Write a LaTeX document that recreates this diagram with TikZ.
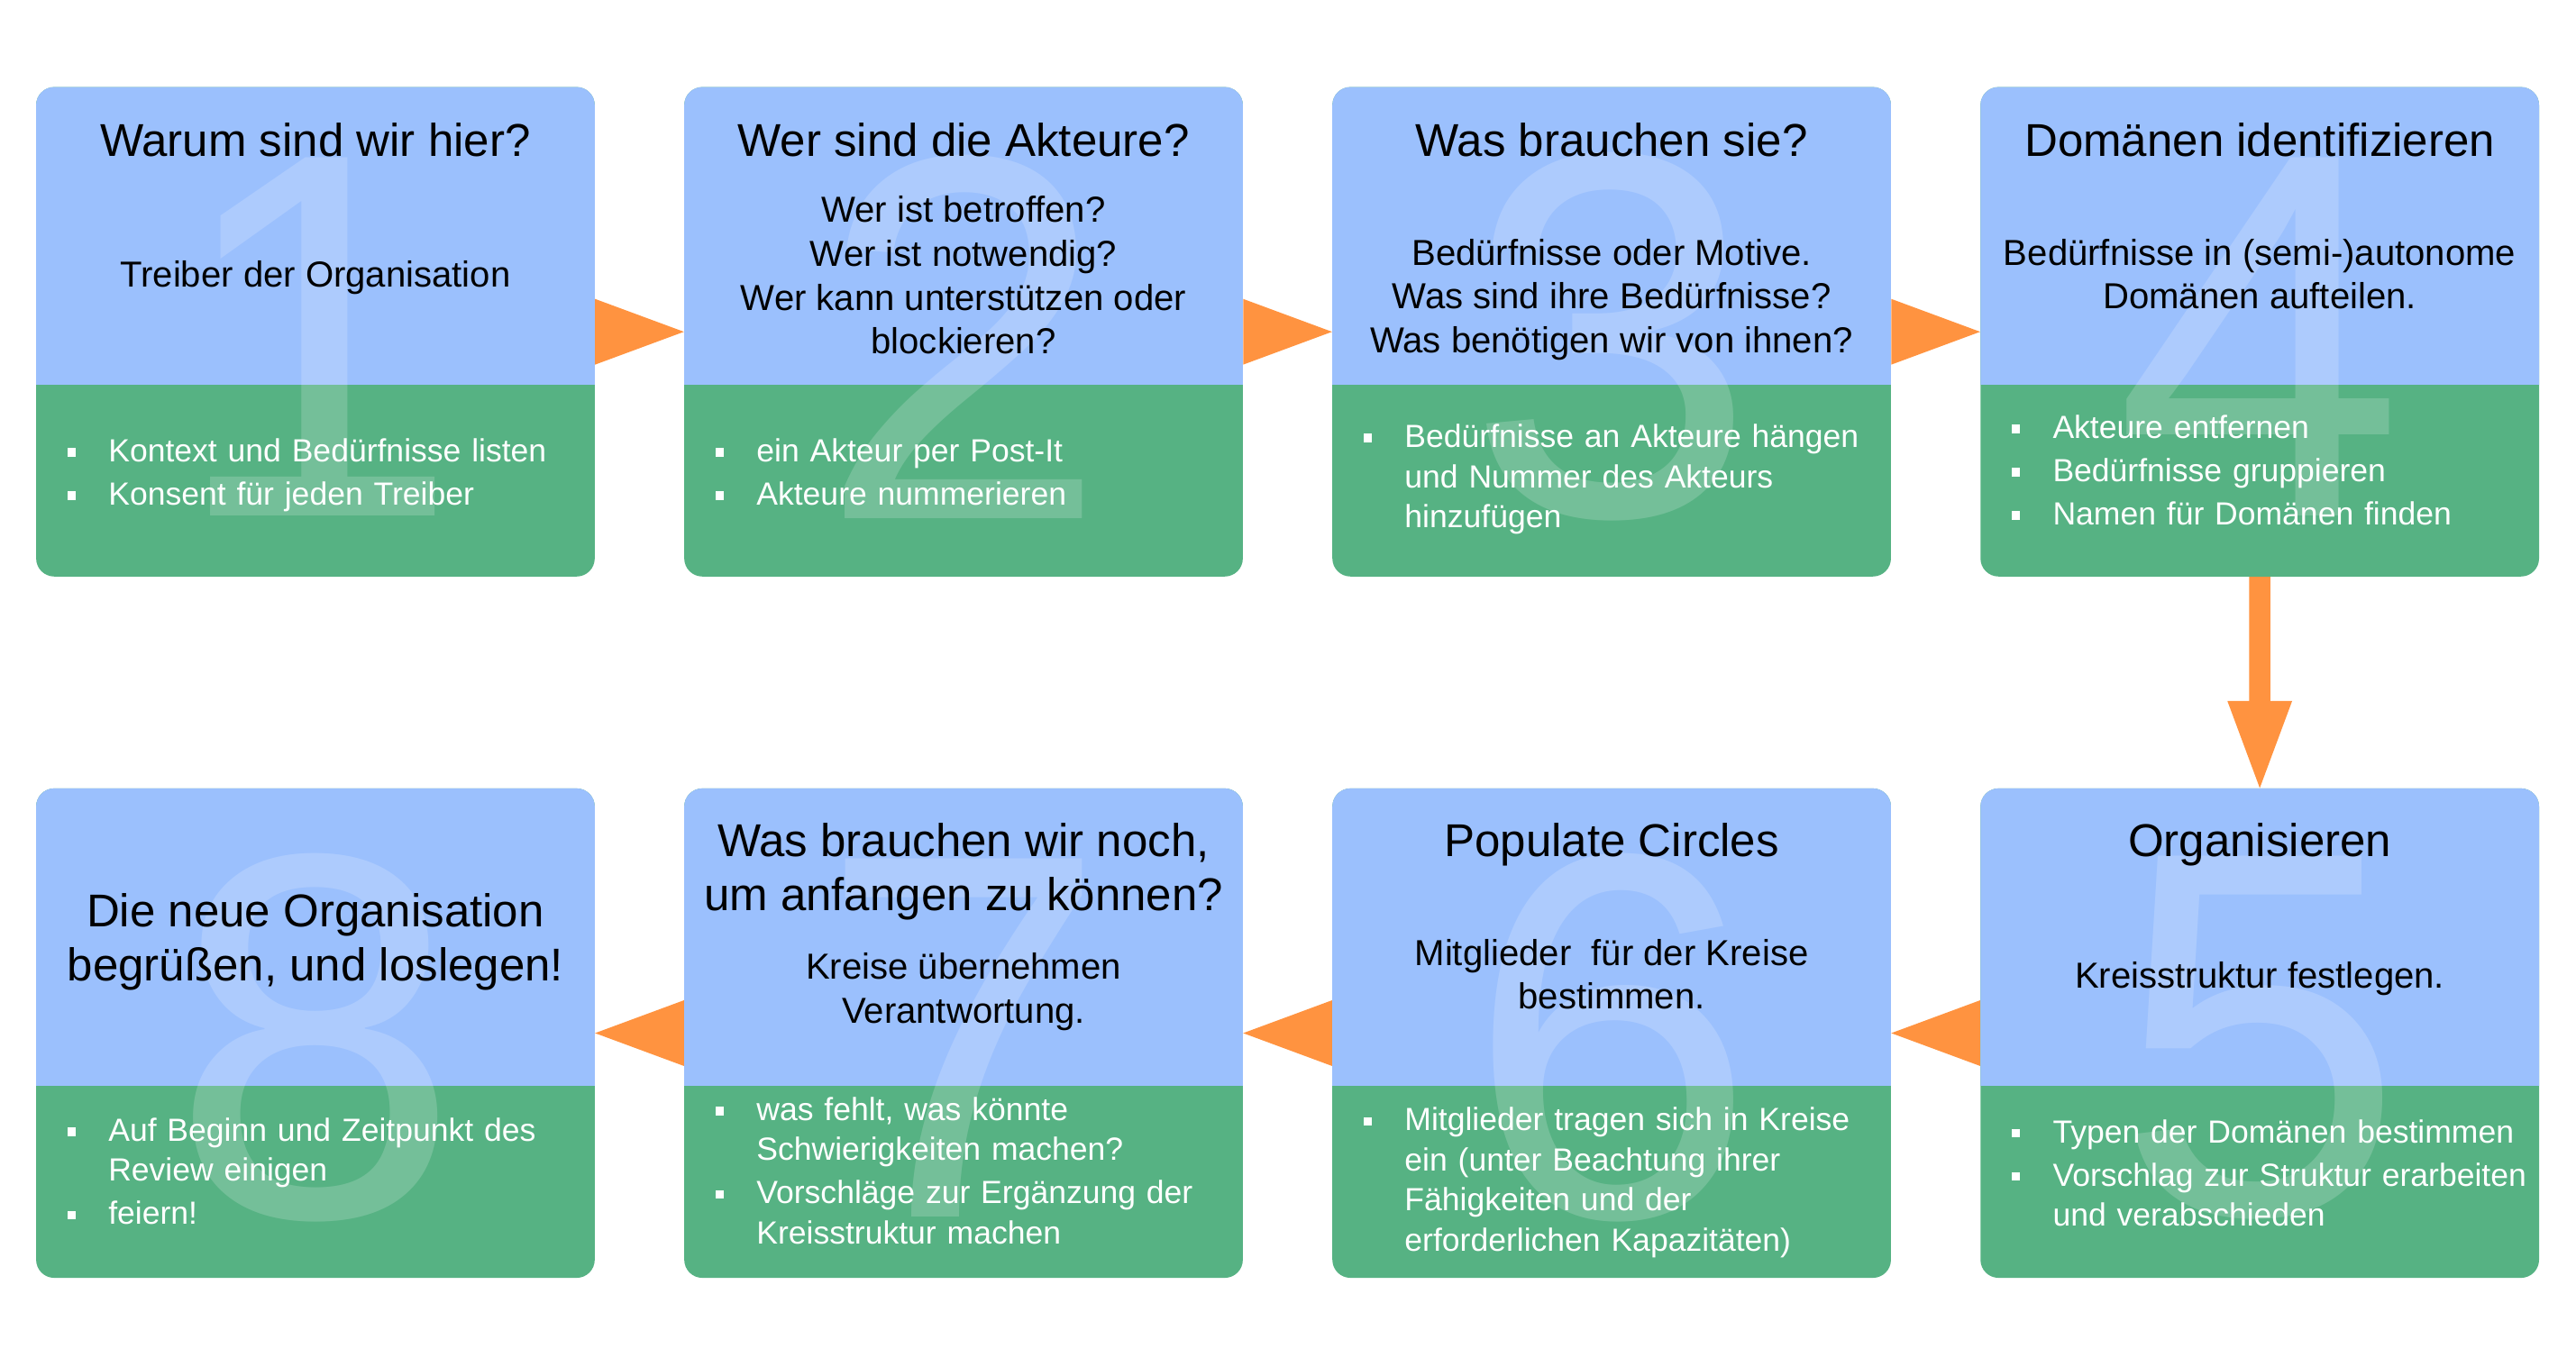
\documentclass[tikz,border=0pt]{standalone}
\usepackage{fontspec}
\setmainfont{Liberation Sans}
\usetikzlibrary{calc}
\definecolor{cardblue}{HTML}{9BC0FD}
\definecolor{cardgreen}{HTML}{56B283}
\definecolor{flowor}{HTML}{FF9340}
\newcommand\pitem{\hangindent=25pt\hangafter=1\noindent\makebox[25pt][l]{\raisebox{3.1pt}{\rule{5.2pt}{5.2pt}}}}
\newcommand\pend{\par\vskip1.8pt}

\begin{document}
\begin{tikzpicture}[x=1pt,y=-1pt,
  card/.style={minimum width=340pt,minimum height=298pt,inner sep=0pt},
  bignum/.style={inner sep=0pt,text=white,text opacity=0.18,font=\fontsize{317}{317}\selectfont},
  headtext/.style={anchor=north,inner sep=0pt,align=center,font=\fontsize{28}{33}\selectfont},
  subtext/.style={anchor=north,inner sep=0pt,align=center,font=\fontsize{22}{26.7}\selectfont},
  listtext/.style={anchor=north west,inner sep=0pt,xshift=19pt,text width=320pt,align=left,text=white,font=\fontsize{19.5}{24.5}\selectfont}]
\useasboundingbox (0,0) rectangle (1568,832);
\foreach \n/\x/\y in {1/22/53,2/416.5/53,3/811/53,4/1205.5/53,5/1205.5/480,6/811/480,7/416.5/480,8/22/480} {
  \node[card] (b\n) at (\x+170,\y+149) {};
  \fill[cardgreen,rounded corners=11pt] (\x,\y) rectangle (\x+340,\y+298);
  \begin{scope}
    \clip (\x,\y) rectangle (\x+340,\y+181);
    \fill[cardblue,rounded corners=11pt] (\x,\y) rectangle (\x+340,\y+220);
  \end{scope}
  \node[bignum] (d\n) at (\x+170,\y+152) {\n};
}
\foreach \a/\sa/\b/\sb in {1/east/2/west,2/east/3/west,3/east/4/west,5/west/6/east,6/west/7/east,7/west/8/east}
  \fill[flowor] ($(b\a.\sa)+(0,-20)$) -- (b\b.\sb) -- ($(b\a.\sa)+(0,20)$) -- cycle;
\fill[flowor] ($(b4.south)+(-6.4,0)$) -- ($(b5.north)+(-6.4,-53)$) -- ($(b5.north)+(-19.7,-53)$) -- (b5.north)
  -- ($(b5.north)+(19.7,-53)$) -- ($(b5.north)+(6.4,-53)$) -- ($(b4.south)+(6.4,0)$) -- cycle;
\foreach \n/\ty/\txt in {
  1/74.8/{Warum sind wir hier?},
  2/74.8/{Wer sind die Akteure?},
  3/74.8/{Was brauchen sie?},
  4/74.8/{Domänen identifizieren},
  5/500.8/{Organisieren},
  6/500.8/{Populate Circles},
  7/500.8/{Was brauchen wir noch,\\um anfangen zu können?},
  8/543.8/{Die neue Organisation\\begrüßen, und loslegen!}}
  \node[headtext] (t\n) at (b\n |- 0,\ty) {\txt};
\foreach \n/\ty/\txt in {
  1/158.8/{Treiber der Organisation},
  2/119.2/{Wer ist betroffen?\\Wer ist notwendig?\\Wer kann unterstützen oder\\blockieren?},
  3/145.2/{Bedürfnisse oder Motive.\\Was sind ihre Bedürfnisse?\\Was benötigen wir von ihnen?},
  4/145.2/{Bedürfnisse in (semi-)autonome\\Domänen aufteilen.},
  5/585.2/{Kreisstruktur festlegen.},
  6/571.5/{Mitglieder~ für der Kreise\\bestimmen.},
  7/579.9/{Kreise übernehmen\\Verantwortung.}}
  \node[subtext] (s\n) at (b\n |- 0,\ty) {\txt};
\foreach \n/\ty/\txt in {
  1/266.7/{\pitem Kontext und Bedürfnisse listen\pend\pitem Konsent für jeden Treiber\pend},
  2/266.7/{\pitem ein Akteur per Post-It\pend\pitem Akteure nummerieren\pend},
  3/258/{\pitem Bedürfnisse an Akteure hängen\newline und Nummer des Akteurs\newline hinzufügen\pend},
  4/252.6/{\pitem Akteure entfernen\pend\pitem Bedürfnisse gruppieren\pend\pitem Namen für Domänen finden\pend},
  5/681.4/{\pitem Typen der Domänen bestimmen\pend\pitem Vorschlag zur Struktur erarbeiten\newline und verabschieden\pend},
  6/674/{\pitem Mitglieder tragen sich in Kreise\newline ein (unter Beachtung ihrer\newline Fähigkeiten und der\newline erforderlichen Kapazitäten)\pend},
  7/667.8/{\pitem was fehlt, was könnte\newline Schwierigkeiten machen?\pend\pitem Vorschläge zur Ergänzung der\newline Kreisstruktur machen\pend},
  8/680.4/{\pitem Auf Beginn und Zeitpunkt des\newline Review einigen\pend\pitem feiern!\pend}}
  \node[listtext] (l\n) at (b\n.west |- 0,\ty) {\txt};
\end{tikzpicture}
\end{document}
